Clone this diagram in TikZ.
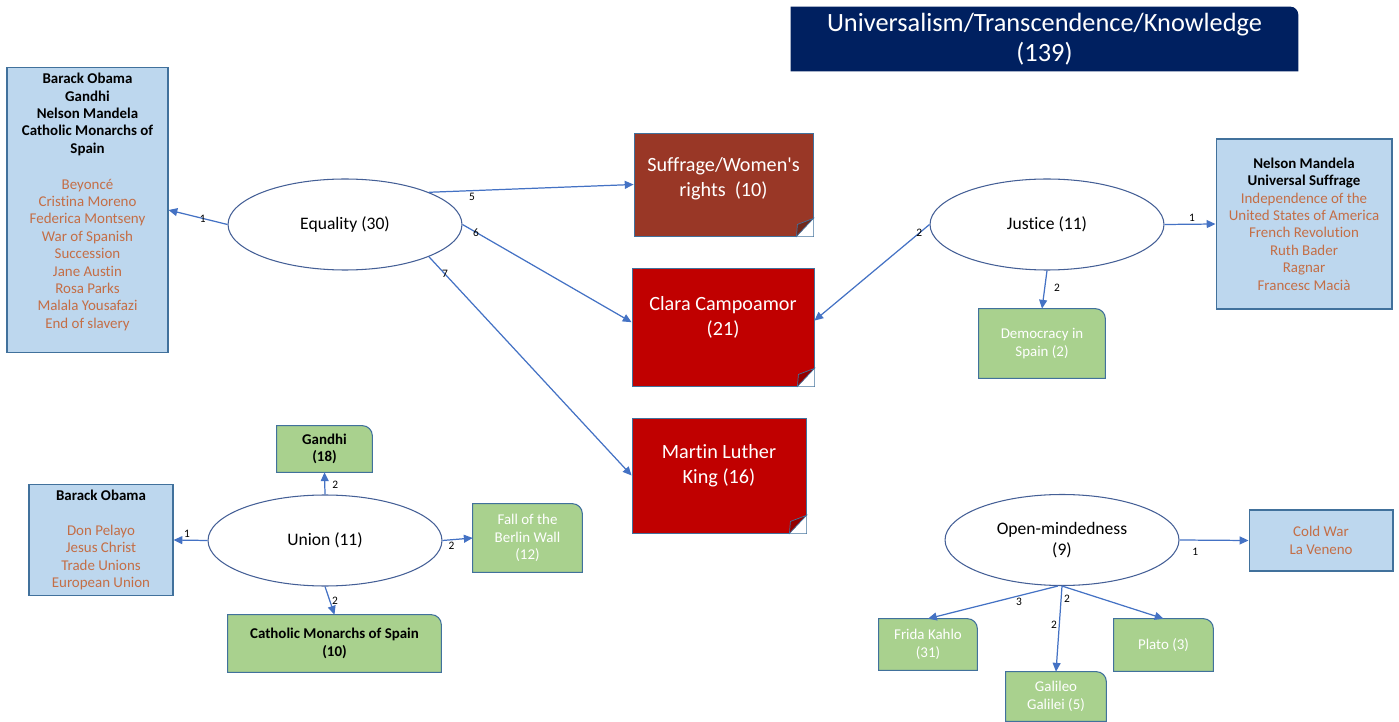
\documentclass[tikz,border=0pt]{standalone}
\usepackage{fontspec}
\setmainfont{Carlito}[Ligatures=NoCommon]
\usepackage{xcolor}
\usepackage{tikz}
\usetikzlibrary{shapes.geometric,arrows.meta,calc,backgrounds}

\definecolor{navy}{RGB}{0,32,96}
\definecolor{boxblue}{RGB}{189,215,238}
\definecolor{boxedge}{RGB}{65,113,156}
\definecolor{boxgreen}{RGB}{169,209,142}
\definecolor{darkred}{RGB}{192,0,0}
\definecolor{darkredfold}{RGB}{145,0,0}
\definecolor{brick}{RGB}{153,55,38}
\definecolor{brickfold}{RGB}{112,40,28}
\definecolor{orng}{RGB}{196,110,70}
\definecolor{arrowblue}{RGB}{68,114,196}
\definecolor{ellblue}{RGB}{68,95,150}

\newcommand{\bname}[1]{{\color{black}\bfseries #1}}

\tikzset{
  concept/.style={ellipse, draw=ellblue, line width=0.6pt, fill=white, minimum width=4.68cm, minimum height=1.82cm, inner sep=0pt, align=center, font={\fontsize{10pt}{12pt}\selectfont}},
  refbox/.style={rectangle, draw=boxedge, line width=0.6pt, fill=boxblue, align=center, text=orng, font={\fontsize{8.5pt}{9.9pt}\selectfont}},
  note/.style={rectangle, draw=boxedge, line width=0.5pt, fill=#1, text=white, align=center, font={\fontsize{11.5pt}{14.2pt}\selectfont}},
  banner/.style={rectangle, align=center, inner sep=0pt, text=white, font={\fontsize{15pt}{17pt}\selectfont}},
  leaf/.style={rectangle, align=center, inner sep=0pt, font={\fontsize{8.5pt}{9.9pt}\selectfont}},
  leafw/.style={leaf, text=white},
  leafb/.style={leaf, font={\fontsize{8.5pt}{9.9pt}\selectfont\bfseries}},
  leafshape/.style={fill=boxgreen, draw=boxedge, line width=0.6pt},
  conn/.style={draw=arrowblue, line width=0.7pt, -{Triangle[length=5pt,width=4.5pt]}},
  lbl/.style={font={\fontsize{6.5pt}{7pt}\selectfont}, inner sep=1pt, text=black},
}

\begin{document}
\begin{tikzpicture}[x=0.02cm, y=-0.02cm]
\useasboundingbox (0,0) rectangle (1399,722);

\node[banner, minimum width=10.14cm, minimum height=1.28cm] (title) at (1044.5,39) {Universalism/Transcendence/Knowledge\\(139)};

\node[refbox, minimum width=3.22cm, minimum height=5.56cm, text depth=10.5pt] (eqrefs) at (87.5,210) {\bname{Barack Obama}\\ \bname{Gandhi}\\ \bname{Nelson Mandela}\\ \bname{Catholic Monarchs of}\\ \bname{Spain}\\[10.5pt] Beyoncé\\ Cristina Moreno\\ Federica Montseny\\ War of Spanish\\ Succession\\ Jane Austin\\ Rosa Parks\\ Malala Yousafazi\\ End of slavery};
\node[refbox, minimum width=3.52cm, minimum height=3.4cm] (justrefs) at (1304,224) {\bname{Nelson Mandela}\\ \bname{Universal Suffrage}\\ Independence of the\\ United States of America\\ French Revolution\\ Ruth Bader\\ Ragnar\\ Francesc Macià};
\node[refbox, minimum width=2.88cm, minimum height=2.16cm] (unionrefs) at (101,540) {\bname{Barack Obama}\\[9.9pt] Don Pelayo\\ Jesus Christ\\ Trade Unions\\ European Union};
\node[refbox, minimum width=2.88cm, minimum height=1.22cm] (openrefs) at (1321,540.5) {Cold War\\ La Veneno};

\node[concept] (equality) at (345,224.5) {Equality (30)};
\node[concept] (justice) at (1047,224.5) {Justice (11)};
\node[concept] (union) at (325,540.5) {Union (11)};
\node[concept] (openmind) at (1062,540) {Open-mindedness\\(9)};

\node[note=brick, minimum width=3.58cm, minimum height=2.06cm, text depth=9pt] (suffrage) at (723.5,184.5) {Suffrage/Women\textquotesingle s\\rights\ \ (10)};
\node[note=darkred, minimum width=3.64cm, minimum height=2.36cm, text depth=13pt] (clara) at (723,327) {Clara Campoamor\\(21)};
\node[note=darkred, minimum width=3.48cm, minimum height=2.3cm, text depth=13pt] (king) at (719,475.5) {Martin Luther\\King (16)};

\node[leafb, minimum width=1.9cm, minimum height=0.92cm] (gandhi) at (324.5,449) {Gandhi\\(18)};
\node[leafw, minimum width=2.18cm, minimum height=1.36cm] (berlin) at (527.5,538) {Fall of the\\Berlin Wall\\(12)};
\node[leafb, minimum width=4.26cm, minimum height=1.14cm] (monarchs) at (334.5,643.5) {Catholic Monarchs of Spain\\(10)};
\node[leafw, minimum width=2.52cm, minimum height=1.38cm] (democracy) at (1042,343.5) {Democracy in\\Spain (2)};
\node[leafw, minimum width=1.96cm, minimum height=1.02cm] (frida) at (928,644.5) {Frida Kahlo\\(31)};
\node[leafw, minimum width=2.0cm, minimum height=0.98cm] (galileo) at (1056,696.5) {Galileo\\Galilei (5)};
\node[leafw, minimum width=1.98cm, minimum height=1.04cm] (plato) at (1163.5,645) {Plato (3)};

\begin{scope}[on background layer]
\fill[navy] (title.south west) -- (title.north west) -- ($(title.north east)+(-8,0)$) arc[start angle=90, end angle=0, radius=0.16cm] -- (title.south east) -- cycle;
\foreach \n in {gandhi,berlin,monarchs,democracy,frida,galileo,plato}
  \filldraw[leafshape] (\n.south west) -- (\n.north west) -- ($(\n.north east)+(-10,0)$) arc[start angle=90, end angle=0, radius=0.2cm] -- (\n.south east) -- cycle;
\end{scope}

\foreach \n/\f in {suffrage/brickfold, clara/darkredfold, king/darkredfold}{
  \fill[white] ($(\n.south east)+(-17,0)$) -- (\n.south east) -- ($(\n.south east)+(0,-18)$) -- cycle;
  \filldraw[fill=\f, draw=boxedge, line width=0.4pt] ($(\n.south east)+(-17,0)$) -- ($(\n.south east)+(0,-18)$) -- ($(\n.south east)+(-16,-12)$) -- cycle;
}

\draw[conn] (equality.west) -- node[lbl, pos=0.42] (e1) {1} (eqrefs.east);
\draw[conn] (equality.21) -- node[lbl, pos=0.21, below] (e5) {5} (suffrage.west);
\draw[conn] (equality.east) -- node[lbl, pos=0.08] (e6) {6} (clara.177);
\draw[conn] (equality.-21) -- node[lbl, pos=0.08] (e7) {7} (king.west);

\draw[conn] (justice.west) -- node[lbl, pos=0.09] (j2) {2} (clara.4);
\draw[conn] (justice.east) -- node[lbl, pos=0.54, above] (j1) {1} (justrefs.west);
\draw[conn] (justice.south) -- node[lbl, pos=0.45, right=4pt] (j3) {2} (democracy.north);

\draw[conn] (union.north) -- node[lbl, pos=0.45, right=3pt] (u2) {2} (gandhi.south);
\draw[conn] (union.west) -- node[lbl, pos=0.6, above] (u1) {1} (unionrefs.east);
\draw[conn] (union.east) -- node[lbl, pos=0.3, below] (u3) {2} (berlin.west);
\draw[conn] (union.south) -- node[lbl, pos=0.5, right=0pt] (u4) {2} (monarchs.north);

\draw[conn] (openmind.east) -- node[lbl, pos=0.23, below=3pt] (o1) {1} (openrefs.west);
\draw[conn] (openmind.265) -- node[lbl, pos=0.3, below] (o3) {3} (frida.north);
\draw[conn] (openmind.south) -- node[lbl, pos=0.45, left] (o2) {2} (galileo.north);
\draw[conn] (openmind.south) -- node[lbl, pos=0.05, below=3pt] (o4) {2} (plato.north);
\end{tikzpicture}
\end{document}
